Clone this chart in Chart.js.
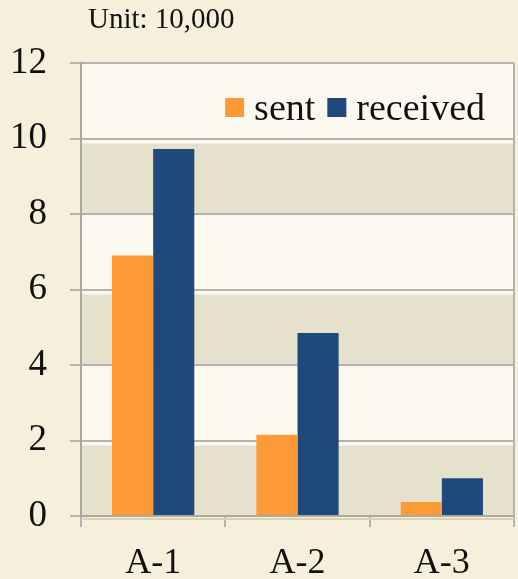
<!DOCTYPE html>
<html>
<head>
<meta charset="utf-8">
<script src="https://cdn.jsdelivr.net/npm/chart.js@4.4.1/dist/chart.umd.min.js"></script>
<style>
  html, body { margin: 0; padding: 0; background: #f6efdb; }
  #chart { display: block; }
</style>
</head>
<body>
<canvas id="chart" width="518" height="579"></canvas>
<script>
const categories = ['A-1', 'A-2', 'A-3'];
const sent = [6.9, 2.15, 0.37];
const received = [9.72, 4.85, 1.0];
const yTicks = [0, 2, 4, 6, 8, 10, 12];
const unitLabel = 'Unit: 10,000';

const serif = '"Liberation Serif", "Times New Roman", serif';
const gridGray = '#b3b3b3';

// plot panel: light fill with darker bands on every other step
const bandsPlugin = {
  id: 'bands',
  beforeDraw(chart) {
    const { ctx, chartArea: area, scales: { y } } = chart;
    ctx.save();
    ctx.fillStyle = '#fbf8f0';
    ctx.fillRect(area.left, area.top, area.right - area.left, area.bottom - area.top);
    ctx.fillStyle = '#e6e1cc';
    for (let i = 0; i < yTicks.length - 1; i += 2) {
      const top = y.getPixelForValue(yTicks[i + 1]) + 5;
      const bottom = y.getPixelForValue(yTicks[i]);
      ctx.fillRect(area.left, top, area.right - area.left, bottom - top);
    }
    ctx.restore();
  },
  afterDraw(chart) {
    const { ctx, chartArea: area } = chart;
    ctx.save();
    // right edge of the plot panel
    ctx.strokeStyle = gridGray;
    ctx.lineWidth = 2;
    ctx.beginPath();
    ctx.moveTo(area.right, area.top);
    ctx.lineTo(area.right, area.bottom);
    ctx.stroke();

    // faint tan shadow under the x axis
    ctx.strokeStyle = '#ddd3aa';
    ctx.beginPath();
    ctx.moveTo(area.left + 2, area.bottom + 3);
    ctx.lineTo(area.right, area.bottom + 3);
    ctx.stroke();

    // unit note above the plot
    ctx.fillStyle = '#111';
    ctx.font = `29px ${serif}`;
    ctx.textBaseline = 'alphabetic';
    ctx.fillText(unitLabel, area.left + 7, 28);

    // legend inside the plot, top right
    ctx.font = `38px ${serif}`;
    let x = area.right - 29;
    const items = chart.data.datasets.slice().reverse();
    items.forEach((ds) => {
      const w = ctx.measureText(ds.label).width;
      x -= w;
      ctx.fillStyle = '#111';
      ctx.fillText(ds.label, x, area.top + 57);
      x -= 10 + 19;
      ctx.fillStyle = ds.backgroundColor;
      ctx.fillRect(x, area.top + 35, 19, 19);
      x -= 12;
    });
    ctx.restore();
  },
};

new Chart(document.getElementById('chart'), {
  type: 'bar',
  data: {
    labels: categories,
    datasets: [
      {
        label: 'sent',
        data: sent,
        backgroundColor: '#fe9a35',
        categoryPercentage: 0.57,
        barPercentage: 1,
      },
      {
        label: 'received',
        data: received,
        backgroundColor: '#1f487b',
        categoryPercentage: 0.57,
        barPercentage: 1,
      },
    ],
  },
  options: {
    responsive: false,
    animation: false,
    layout: {
      padding: { top: 63, right: 4, left: 0, bottom: 0 },
    },
    plugins: {
      legend: { display: false },
      tooltip: { enabled: false },
    },
    scales: {
      x: {
        afterFit: (scale) => { scale.height = 63; },
        grid: {
          offset: true,
          drawOnChartArea: false,
          tickLength: 11,
          color: gridGray,
          lineWidth: 2,
        },
        border: { color: '#a8a8a8', width: 2 },
        ticks: {
          color: '#111',
          padding: 15,
          font: { family: serif, size: 36 },
        },
      },
      y: {
        min: 0,
        max: 12,
        afterFit: (scale) => { scale.width = 81; },
        afterBuildTicks: (scale) => {
          scale.ticks = yTicks.map((v) => ({ value: v }));
        },
        grid: {
          tickLength: 11,
          color: gridGray,
          lineWidth: 2,
        },
        border: { color: '#a8a8a8', width: 2 },
        ticks: {
          color: '#111',
          padding: 23,
          font: { family: serif, size: 37 },
        },
      },
    },
  },
  plugins: [bandsPlugin],
});
</script>
</body>
</html>
